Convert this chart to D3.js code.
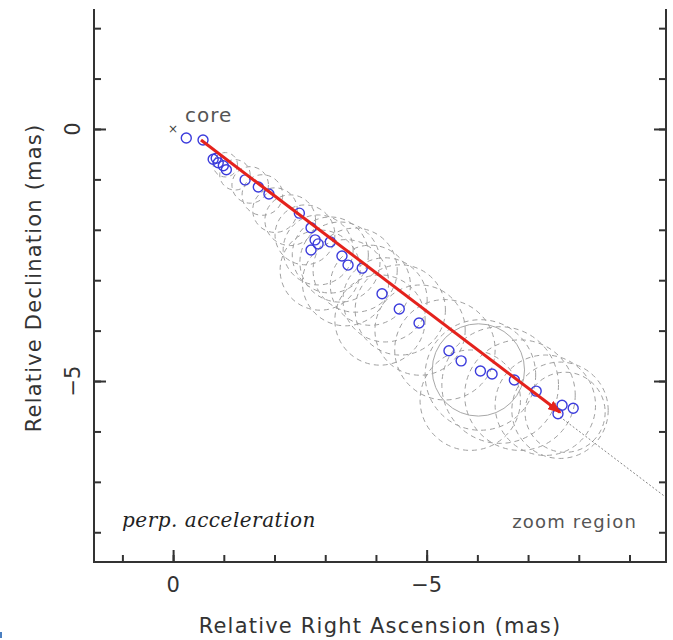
<!DOCTYPE html>
<html><head><meta charset="utf-8">
<script src="https://cdn.jsdelivr.net/npm/d3@7"></script>
<style>body{margin:0;background:#fff;} svg{display:block}</style>
</head><body><svg id="c" width="673" height="640"></svg>
<script>
// Blue component positions (mas)
const compRA  = [-0.26,-0.59,-0.79,-0.89,-0.99,-0.85,-1.05,-1.42,-1.68,-1.89,-2.49,-2.72,-2.80,-2.72,-2.86,-3.10,-3.33,-3.45,-3.73,-4.12,-4.46,-4.85,-5.44,-5.68,-6.06,-6.29,-6.73,-7.16,-7.67,-7.89,-7.59];
const compDec = [-0.18,-0.22,-0.60,-0.67,-0.73,-0.58,-0.81,-1.01,-1.15,-1.29,-1.67,-1.96,-2.20,-2.40,-2.28,-2.24,-2.52,-2.70,-2.76,-3.27,-3.57,-3.85,-4.40,-4.60,-4.80,-4.86,-4.98,-5.20,-5.48,-5.54,-5.65];
// Dashed component size rings (mas)
const ringRA  = [-1.03,-1.22,-1.52,-1.76,-2.01,-2.31,-2.60,-2.86,-3.10,-3.29,-3.59,-3.89,-4.18,-4.48,-4.87,-5.36,-6.06,-6.45,-6.84,-7.34,-7.63,-7.73,-2.90,-4.08,-5.86,-3.40];
const ringDec = [-0.71,-0.91,-1.11,-1.31,-1.61,-1.81,-2.10,-2.40,-2.50,-2.64,-2.80,-3.10,-3.39,-3.59,-3.99,-4.38,-4.88,-5.08,-5.28,-5.48,-5.58,-5.62,-2.80,-3.79,-5.38,-3.05];
const ringR   = [0.24,0.30,0.36,0.40,0.44,0.50,0.59,0.69,0.75,0.79,0.83,0.79,0.83,0.89,0.89,0.99,1.09,1.15,1.09,0.99,0.95,0.79,0.79,0.89,0.99,0.85];
// Solid ring
const solidRA = [-6.02], solidDec = [-4.78], solidR = [0.91];
// Arrow (fitted motion) and extrapolation
const arrowRA = [-0.55,-7.63], arrowDec = [-0.22,-5.62];
const extRA = [-7.63,-9.71], extDec = [-5.71,-7.30];
// Ticks
const xMinorTicks = [1,0,-1,-2,-3,-4,-5,-6,-7,-8,-9];
const xMajorTicks = [0,-5];
const yMinorTicks = [2,1,0,-1,-2,-3,-4,-5,-6,-7,-8];
const yMajorTicks = [0,-5];
const xTitle = "Relative Right Ascension (mas)";
const yTitle = "Relative Declination (mas)";

const L=94,R=666,T=9,B=562;
const svg=d3.select("#c");
const x=d3.scaleLinear().domain([1.56,-9.72]).range([L,R]);
const y=d3.scaleLinear().domain([-8.59,2.38]).range([B,T]);
const rpx=v=>Math.abs(x(v)-x(0));
const fmt=d=>d===0?"0":"\u2212"+Math.abs(d);

// rings
const g=svg.append("g");
g.selectAll("circle.ring").data(ringRA.map((d,i)=>i)).join("circle")
 .attr("cx",i=>x(ringRA[i])).attr("cy",i=>y(ringDec[i])).attr("r",i=>rpx(ringR[i]))
 .attr("fill","none").attr("stroke","#a0a0a0").attr("stroke-width",1).attr("stroke-dasharray","5,4");
g.selectAll("circle.solid").data(solidRA.map((d,i)=>i)).join("circle")
 .attr("cx",i=>x(solidRA[i])).attr("cy",i=>y(solidDec[i])).attr("r",i=>rpx(solidR[i]))
 .attr("fill","none").attr("stroke","#a8a8a8").attr("stroke-width",1);

// extrapolation
g.append("line").attr("x1",x(extRA[0])).attr("y1",y(extDec[0])).attr("x2",x(extRA[1])).attr("y2",y(extDec[1]))
 .attr("stroke","#777").attr("stroke-width",0.9).attr("stroke-dasharray","2,2");

// components
g.selectAll("circle.comp").data(compRA.map((d,i)=>i)).join("circle")
 .attr("cx",i=>x(compRA[i])).attr("cy",i=>y(compDec[i])).attr("r",5)
 .attr("fill","none").attr("stroke","#3c3cdc").attr("stroke-width",1.4);

// arrow
svg.append("defs").append("marker").attr("id","ah").attr("markerUnits","userSpaceOnUse")
 .attr("viewBox","0 0 14 10").attr("refX",12).attr("refY",5).attr("markerWidth",14).attr("markerHeight",10).attr("orient","auto")
 .append("path").attr("d","M0,0 L14,5 L0,10 Z").attr("fill","#e4221c");
g.append("line").attr("x1",x(arrowRA[0])).attr("y1",y(arrowDec[0])).attr("x2",x(arrowRA[1])).attr("y2",y(arrowDec[1]))
 .attr("stroke","#e4221c").attr("stroke-width",3).attr("marker-end","url(#ah)");

// core
g.append("text").attr("x",x(0)).attr("y",y(0)+4).attr("text-anchor","middle")
 .attr("font-family","DejaVu Sans").attr("font-size",12).attr("fill","#444").text("\u00d7");
g.append("text").attr("x",x(0)+12).attr("y",y(0)-7)
 .attr("font-family","DejaVu Sans").attr("font-size",20).attr("letter-spacing",1).attr("fill","#555").text("core");

// axes frame
const ax=svg.append("g").attr("stroke","#333").attr("stroke-width",2).attr("fill","none");
ax.append("line").attr("x1",L).attr("x2",L).attr("y1",T).attr("y2",B+1);
ax.append("line").attr("x1",R).attr("x2",R).attr("y1",T).attr("y2",B+1);
ax.append("line").attr("x1",L-1).attr("x2",R+1).attr("y1",B).attr("y2",B);

function ticks(axisFn, scale, vals, size, transform){
  const a=svg.append("g").attr("transform",transform)
    .call(axisFn(scale).tickValues(vals).tickSize(size).tickFormat(""));
  a.select(".domain").remove();
  a.selectAll("line").attr("stroke","#333").attr("stroke-width",2);
}
ticks(d3.axisBottom,x,xMinorTicks,-7,`translate(0,${B})`);
ticks(d3.axisBottom,x,xMajorTicks,-12,`translate(0,${B})`);
ticks(d3.axisRight,y,yMinorTicks,7,`translate(${L},0)`);
ticks(d3.axisRight,y,yMajorTicks,12,`translate(${L},0)`);
ticks(d3.axisLeft,y,yMinorTicks,7,`translate(${R},0)`);
ticks(d3.axisLeft,y,yMajorTicks,12,`translate(${R},0)`);

// tick labels
svg.selectAll("text.xt").data(xMajorTicks).join("text").attr("class","xt")
 .attr("x",d=>x(d)).attr("y",592).attr("text-anchor","middle")
 .attr("font-family","DejaVu Sans").attr("font-size",21).attr("fill","#333").text(fmt);
svg.selectAll("text.yt").data(yMajorTicks).join("text").attr("class","yt")
 .attr("transform",d=>`translate(80,${y(d)}) rotate(-90)`).attr("text-anchor","middle")
 .attr("font-family","DejaVu Sans").attr("font-size",21).attr("fill","#333").text(fmt);

// titles
svg.append("text").attr("x",(L+R)/2).attr("y",633).attr("text-anchor","middle")
 .attr("font-family","DejaVu Sans").attr("font-size",21).attr("letter-spacing",1.2).attr("fill","#333").text(xTitle);
svg.append("text").attr("transform",`translate(41,278) rotate(-90)`).attr("text-anchor","middle")
 .attr("font-family","DejaVu Sans").attr("font-size",21).attr("letter-spacing",1.2).attr("fill","#333").text(yTitle);

// annotations
svg.append("text").attr("x",122).attr("y",527)
 .attr("font-family","DejaVu Serif").attr("font-style","italic")
 .attr("font-size",20).attr("letter-spacing",0.5).attr("fill","#222").text("perp. acceleration");
svg.append("text").attr("x",637).attr("y",528).attr("text-anchor","end")
 .attr("font-family","DejaVu Sans").attr("font-size",18).attr("letter-spacing",1.2).attr("fill","#555").text("zoom region");

// small blue mark at corner
svg.append("rect").attr("x",0).attr("y",632).attr("width",2).attr("height",6).attr("fill","#4a7fc0");
</script></body></html>
